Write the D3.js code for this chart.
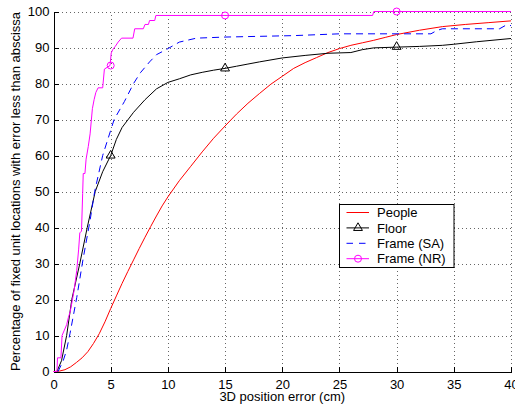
<!DOCTYPE html>
<html>
<head>
<meta charset="utf-8">
<script src="https://cdn.jsdelivr.net/npm/d3@7"></script>
<style>
body { margin: 0; background: #fff; }
svg { font-family: "Liberation Sans", Arial, Helvetica, sans-serif; }
.grid line { stroke: #666; stroke-dasharray: 1,3; shape-rendering: crispEdges; }
.axis path, .axis line { stroke: #000; shape-rendering: crispEdges; }
.axis text { font-size: 13px; fill: #000; }
</style>
</head>
<body>
<script>
// values: [error (cm), percentage]
const xTicks = [0, 5, 10, 15, 20, 25, 30, 35, 40];
const yTicks = [0, 10, 20, 30, 40, 50, 60, 70, 80, 90, 100];

const people = [[0,0],[0.5,0.1],[1,0.5],[1.5,1.3],[2,2.5],[2.5,3.8],[3,5.5],[3.5,7.8],[4,10.5],[4.5,13.8],
  [5,17.5],[5.5,21],[6,24.5],[6.5,27.8],[7,31],[7.5,34.2],[8,37.3],[8.5,40.3],[9,43.2],[9.5,46],[10,48.5],
  [11,53],[12,57],[13,61],[14,64.8],[15,68.2],[16,71.5],[17,74.5],[18,77.2],[19,79.8],[20,82],[21,84.2],
  [22,85.8],[23,87.2],[24,88.6],[25,89.7],[26,90.6],[27,91.3],[28,92],[29,92.8],[30,93.6],[32,94.8],
  [34,95.8],[36,96.4],[38,96.9],[40,97.4]];

const floor = [[0.3,0],[0.7,3],[1.15,10],[1.6,20],[2.3,30],[2.95,40],[3.65,50],[4.3,55.5],[5,60],[5.5,64.5],
  [6,67.8],[7,72],[8,75.5],[9,78.5],[10,80.3],[11,81.3],[12,82.4],[13,83.1],[14,83.7],[15,84.2],[16,84.8],
  [17,85.4],[18,86],[20,87.1],[22,87.8],[24,88.4],[26,88.6],[27,89.4],[28,89.9],[30,90.1],[32,90.3],
  [34,90.6],[35,90.9],[37,91.6],[40,92.5]];

const frameSA = [[0.4,0],[0.85,3],[1.15,6],[1.44,10.5],[2.03,20.5],[2.6,31.5],[3.2,42],[3.6,50],[4.3,60],
  [5.3,70],[6.2,75],[7,80],[7.6,83],[8.4,86],[9,88],[9.9,89.5],[11,91.5],[12.5,92.6],[15,92.9],[18,93.1],
  [21,93.3],[25,93.8],[33,93.8],[33.5,94.7],[34,95.2],[39,95.2],[39.5,96.1],[40,96.1]];

const frameNR = [[0,0],[0.3,0],[0.35,3.8],[0.65,3.8],[0.75,10],[0.95,11.5],[1.15,13],[1.3,15],[1.45,16.5],
  [1.6,19],[1.8,22.5],[2.03,28],[2.2,34],[2.3,38.5],[2.45,39],[2.55,49.5],[2.6,55],[2.75,55],[2.85,59],
  [3.04,62.5],[3.2,66],[3.4,73],[3.55,75.5],[3.7,77.5],[3.9,78.8],[4.3,78.8],[4.45,84],[4.94,85],[5.05,88.5],
  [5.2,89.5],[5.4,90.3],[5.65,91.5],[5.95,92.6],[6.95,92.6],[7.1,95.2],[7.85,95.2],[8,96.4],[8.3,96.4],
  [8.4,97.5],[8.85,97.5],[8.95,98.9],[27.9,98.9],[28,100],[40,100]];

const floorMarks = [[5,60],[15,84.2],[30,90.2]];
const frameNRMarks = [[5,85],[15,98.9],[30,100]];

const seriesNames = ["People", "Floor", "Frame (SA)", "Frame (NR)"];

function draw() {
  const W = 515, H = 405;
  const left = 53.5, right = 511, top = 11.5, bottom = 371.5;

  const svg = d3.select("body").append("svg")
    .attr("width", W)
    .attr("height", H);

  const x = d3.scaleLinear().domain([0, 40]).range([left, right]);
  const y = d3.scaleLinear().domain([0, 100]).range([bottom, top]);

  // dotted grid
  svg.append("g")
    .attr("class", "grid")
    .attr("transform", `translate(0,${bottom})`)
    .call(d3.axisBottom(x).tickValues(xTicks.slice(1)).tickSize(-(bottom - top)).tickFormat(""))
    .call(g => g.select(".domain").remove());
  svg.append("g")
    .attr("class", "grid")
    .attr("transform", `translate(${left},0)`)
    .call(d3.axisLeft(y).tickValues(yTicks.slice(1)).tickSize(-(right - left)).tickFormat(""))
    .call(g => g.select(".domain").remove());

  // axes, ticks pointing in
  svg.append("g")
    .attr("class", "axis")
    .attr("transform", `translate(0,${bottom})`)
    .call(d3.axisBottom(x).tickValues(xTicks).tickSizeInner(-5).tickSizeOuter(0).tickPadding(8));
  svg.append("g")
    .attr("class", "axis")
    .attr("transform", `translate(${left},0)`)
    .call(d3.axisLeft(y).tickValues(yTicks).tickSizeInner(-5).tickSizeOuter(0).tickPadding(4));

  svg.append("text")
    .attr("x", (left + right) / 2)
    .attr("y", 401)
    .attr("text-anchor", "middle")
    .attr("font-size", 13)
    .text("3D position error (cm)");

  svg.append("text")
    .attr("transform", `translate(19.5,${(top + bottom) / 2}) rotate(-90)`)
    .attr("text-anchor", "middle")
    .attr("font-size", 13)
    .text("Percentage of fixed unit locations with error less than abscissa");

  const line = d3.line().x(d => x(d[0])).y(d => y(d[1]));

  const styles = [
    { data: people, color: "#ff0000", dash: null },
    { data: floor, color: "#000000", dash: null },
    { data: frameSA, color: "#0000ff", dash: "7,5" },
    { data: frameNR, color: "#ff00ff", dash: null }
  ];

  styles.forEach(s => {
    svg.append("path")
      .datum(s.data)
      .attr("fill", "none")
      .attr("stroke", s.color)
      .attr("stroke-width", 1)
      .attr("stroke-dasharray", s.dash)
      .attr("d", line);
  });

  const tri = d3.symbol().type(d3.symbolTriangle).size(34);

  svg.selectAll(".floormark")
    .data(floorMarks)
    .enter()
    .append("path")
    .attr("class", "floormark")
    .attr("d", tri)
    .attr("transform", d => `translate(${x(d[0])},${y(d[1])})`)
    .attr("fill", "none")
    .attr("stroke", "#000");

  svg.selectAll(".nrmark")
    .data(frameNRMarks)
    .enter()
    .append("circle")
    .attr("class", "nrmark")
    .attr("cx", d => x(d[0]))
    .attr("cy", d => y(d[1]))
    .attr("r", 3.5)
    .attr("fill", "none")
    .attr("stroke", "#ff00ff");

  // legend
  const lg = svg.append("g").attr("transform", "translate(339.5,204.5)");
  lg.append("rect")
    .attr("width", 114.5)
    .attr("height", 63)
    .attr("fill", "#fff")
    .attr("stroke", "#000")
    .attr("stroke-width", 1);

  seriesNames.forEach((name, i) => {
    const ly = 8 + i * 15.4;
    const s = styles[i];
    lg.append("line")
      .attr("x1", 7).attr("x2", 29.5)
      .attr("y1", ly).attr("y2", ly)
      .attr("stroke", s.color)
      .attr("stroke-dasharray", s.dash ? "6.5,6" : null);
    if (i === 1) {
      lg.append("path").attr("d", tri)
        .attr("transform", `translate(18.5,${ly})`)
        .attr("fill", "none").attr("stroke", "#000");
    }
    if (i === 3) {
      lg.append("circle").attr("cx", 18.5).attr("cy", ly).attr("r", 3.5)
        .attr("fill", "none").attr("stroke", "#ff00ff");
    }
    lg.append("text")
      .attr("x", 37.5)
      .attr("y", ly)
      .attr("dy", "0.36em")
      .attr("font-size", 13)
      .text(name);
  });
}
window.onload = draw;
</script>
</body>
</html>
